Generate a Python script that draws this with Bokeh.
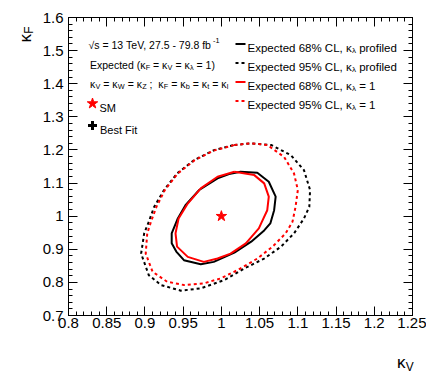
import math
import numpy as np
from bokeh.plotting import figure
from bokeh.models import Label, LinearAxis, FixedTicker, Range1d, CustomJSTickFormatter
from bokeh.embed import file_html
from bokeh.resources import INLINE

# ---------------- data ----------------
# Expected 68% CL, kappa_lambda profiled (black solid)
kv_68_prof = [1.010, 1.025, 1.047, 1.062, 1.071, 1.069, 1.064, 1.056, 1.039, 1.017, 0.990,
              0.973, 0.951, 0.941, 0.935, 0.935, 0.943, 0.953, 0.971, 0.995]
kf_68_prof = [1.127, 1.134, 1.131, 1.104, 1.059, 1.018, 0.978, 0.957, 0.923, 0.890, 0.862,
              0.855, 0.867, 0.893, 0.918, 0.948, 0.993, 1.033, 1.079, 1.114]
# Expected 95% CL, kappa_lambda profiled (black dashed)
kv_95_prof = [1.017, 1.039, 1.065, 1.091, 1.108, 1.116, 1.115, 1.108, 1.095, 1.078, 1.056,
              1.030, 1.004, 0.973, 0.947, 0.921, 0.905, 0.895, 0.899, 0.905, 0.912, 0.925,
              0.942, 0.964, 0.990]
kf_95_prof = [1.215, 1.220, 1.215, 1.184, 1.139, 1.079, 1.028, 0.993, 0.948, 0.908, 0.872,
              0.842, 0.807, 0.782, 0.775, 0.792, 0.822, 0.887, 0.948, 0.983, 1.028, 1.079,
              1.129, 1.169, 1.199]
# Expected 68% CL, kappa_lambda = 1 (red solid)
kv_68_kl1 = [1.017, 1.025, 1.043, 1.056, 1.062, 1.060, 1.052, 1.049, 1.032, 1.012, 0.995,
             0.977, 0.956, 0.942, 0.940, 0.944, 0.956, 0.973, 0.995]
kf_68_kl1 = [1.134, 1.131, 1.124, 1.099, 1.059, 1.018, 0.978, 0.963, 0.918, 0.887, 0.872,
             0.862, 0.877, 0.908, 0.948, 0.993, 1.038, 1.084, 1.119]
# Expected 95% CL, kappa_lambda = 1 (red dashed)
kv_95_kl1 = [1.017, 1.039, 1.060, 1.082, 1.095, 1.100, 1.097, 1.093, 1.084, 1.067, 1.047,
             1.021, 0.999, 0.977, 0.951, 0.929, 0.910, 0.901, 0.903, 0.908, 0.915, 0.926,
             0.943, 0.965, 0.990]
kf_95_kl1 = [1.215, 1.220, 1.215, 1.179, 1.129, 1.079, 1.028, 0.983, 0.948, 0.908, 0.872,
             0.837, 0.812, 0.797, 0.792, 0.802, 0.832, 0.887, 0.948, 0.984, 1.028, 1.079,
             1.129, 1.169, 1.198]
# Standard Model point
sm_kv = [1.0]
sm_kf = [1.0]

x_ticks = [0.8, 0.85, 0.9, 0.95, 1.0, 1.05, 1.1, 1.15, 1.2, 1.25]
x_tick_labels = ["0.8", "0.85", "0.9", "0.95", "1", "1.05", "1.1", "1.15", "1.2", "1.25"]
y_ticks = [0.7, 0.8, 0.9, 1.0, 1.1, 1.2, 1.3, 1.4, 1.5, 1.6]
y_tick_labels = ["0.7", "0.8", "0.9", "1", "1.1", "1.2", "1.3", "1.4", "1.5", "1.6"]

# ---------------- figure ----------------
X0, X1 = 0.8, 1.25
Y0, Y1 = 0.7, 1.6
BL, BR, BT, BB = 68, 14, 17, 60
FW, FH = 344, 298
W, H = BL + FW + BR, BT + FH + BB
FONT = "Liberation Sans"

p = figure(width=W, height=H,
           x_range=Range1d(X0, X1), y_range=Range1d(Y0, Y1),
           output_backend="svg", toolbar_location=None,
           min_border_left=BL, min_border_right=BR, min_border_top=BT, min_border_bottom=BB)
p.xgrid.visible = False
p.ygrid.visible = False
p.outline_line_color = "black"
p.outline_line_width = 1
p.outline_line_alpha = 1.0
p.background_fill_color = "white"
p.border_fill_color = "white"

x_minor = [round(v, 3) for v in np.arange(0.80, 1.2501, 0.01)]
y_minor = [round(v, 3) for v in np.arange(0.70, 1.6001, 0.02)]


def style_axis(ax, major_len, minor_len):
    ax.axis_line_color = "black"
    ax.major_tick_in = major_len
    ax.major_tick_out = 0
    ax.minor_tick_in = minor_len
    ax.minor_tick_out = 0
    ax.major_tick_line_color = "black"
    ax.minor_tick_line_color = "black"
    ax.major_label_text_font = FONT
    ax.major_label_text_font_size = "15px"
    ax.major_label_text_color = "black"


xb = p.xaxis[0]
xb.ticker = FixedTicker(ticks=x_ticks, minor_ticks=x_minor)
xb.major_label_overrides = {t: l for t, l in zip(x_ticks, x_tick_labels)}
style_axis(xb, 9, 4)
xb.major_label_standoff = 2

yl = p.yaxis[0]
yl.ticker = FixedTicker(ticks=y_ticks, minor_ticks=y_minor)
yl.major_label_overrides = {t: l for t, l in zip(y_ticks, y_tick_labels)}
style_axis(yl, 9, 4)
yl.major_label_standoff = 5

empty = CustomJSTickFormatter(code="return ''")
xt = LinearAxis(ticker=FixedTicker(ticks=x_ticks, minor_ticks=x_minor), formatter=empty)
style_axis(xt, 9, 4)
xt.major_label_standoff = 0
xt.major_label_text_font_size = "1px"
p.add_layout(xt, "above")
yr = LinearAxis(ticker=FixedTicker(ticks=y_ticks, minor_ticks=y_minor), formatter=empty)
style_axis(yr, 9, 4)
yr.major_label_standoff = 0
yr.major_label_text_font_size = "1px"
p.add_layout(yr, "right")

# ---------------- contours ----------------
def closed(a):
    return list(a) + [a[0]]

p.line(closed(kv_95_prof), closed(kf_95_prof), line_color="black", line_width=2, line_dash="3 3")
p.line(closed(kv_95_kl1), closed(kf_95_kl1), line_color="red", line_width=2, line_dash="3 3")
p.line(closed(kv_68_prof), closed(kf_68_prof), line_color="black", line_width=2)
p.line(closed(kv_68_kl1), closed(kf_68_kl1), line_color="red", line_width=2)
p.scatter(sm_kv, sm_kf, marker="star", size=11, fill_color="red", line_color="red")

# ---------------- layout helpers (reference-pixel positions) ----------------
REF_L, REF_T = 69.5, 19.0   # frame top-left corner in the reference picture


def px2x(xp):
    return X0 + (xp - REF_L) / FW * (X1 - X0)


def px2y(yp):
    return Y1 - (yp - REF_T) / FH * (Y1 - Y0)


WID = {' ': 278, '\u00a0': 278, '(': 333, ')': 333, ',': 278, '-': 333, '.': 278, ';': 278,
       '=': 584, '%': 889,
       '0': 556, '1': 556, '2': 556, '3': 556, '4': 556, '5': 556, '6': 556, '7': 556, '8': 556, '9': 556,
       'B': 667, 'C': 722, 'E': 667, 'F': 611, 'L': 556, 'M': 833, 'S': 667, 'T': 611, 'V': 667,
       'W': 944, 'Z': 611, 'a': 556, 'b': 556, 'c': 500, 'd': 556, 'e': 556, 'f': 278, 'i': 222,
       'l': 222, 'o': 556, 'p': 556, 'r': 333, 's': 500, 't': 278, 'x': 500,
       'κ': 520, 'λ': 500, '√': 549}


def twidth(s, size):
    return sum(WID.get(c, 556) for c in s) / 1000.0 * size


def rich(parts, xp, yp, size, color="black", angle=0.0, side=None):
    """parts: list of (text, kind) with kind in n/sub/sup; (xp, yp) baseline start in ref pixels."""
    d = 0.0
    for txt, kind in parts:
        if kind == "n":
            fs, s = size, 0.0
        elif kind == "sub":
            fs, s = size * 0.7, size * 0.25
        else:
            fs, s = size * 0.7, -size * 0.45
        if angle == 0.0:
            dx, dy = d, s
        else:
            dx, dy = s, -d
        shown = txt.replace(" ", "\u00a0")
        lab = Label(x=X0, y=Y1, x_offset=(xp - REF_L) + dx, y_offset=-((yp - REF_T) + dy),
                    text=shown, text_font=FONT, text_font_size=f"{fs:.1f}px",
                    text_color=color, text_align="left", text_baseline="alphabetic",
                    angle=angle)
        if side:
            p.add_layout(lab, side)
        else:
            p.add_layout(lab)
        d += twidth(txt, fs)


# header texts
rich([("√s = 13 TeV, 27.5 - 79.8 fb", "n"), ("-1", "sup")], 89.5, 46.5, 10.5)
rich([("Expected (κ", "n"), ("F", "sub"), (" = κ", "n"), ("V", "sub"), (" = κ", "n"),
      ("λ", "sub"), (" = 1)", "n")], 91, 66, 10.5)
rich([("κ", "n"), ("V", "sub"), (" = κ", "n"), ("W", "sub"), (" = κ", "n"), ("Z", "sub"),
      (" ;  κ", "n"), ("F", "sub"), (" = κ", "n"), ("b", "sub"), (" = κ", "n"), ("t", "sub"),
      (" = κ", "n"), ("l", "sub")], 91, 85.5, 10.5)

# SM / Best Fit keys
p.scatter([px2x(93.5)], [px2y(105)], marker="star", size=11, fill_color="red", line_color="red")
rich([("SM", "n")], 100.5, 109.5, 11)
p.scatter([px2x(93.5)], [px2y(127)], marker="cross", size=9, line_color="black", line_width=3)
rich([("Best Fit", "n")], 101, 131, 11)

# legend
leg = [("black", None, "profiled"), ("black", "3 3", "profiled"),
       ("red", None, "= 1"), ("red", "3 3", "= 1")]
cls = ["68%", "95%", "68%", "95%"]
for i, ((col, dash, tail), cl) in enumerate(zip(leg, cls)):
    yrow = 45.5 + 19 * i
    kw = dict(line_color=col, line_width=2)
    if dash:
        kw["line_dash"] = dash
    p.segment(x0=[px2x(236.5)], y0=[px2y(yrow)], x1=[px2x(246.5)], y1=[px2y(yrow)], **kw)
    rich([(f"Expected {cl} CL, κ", "n"), ("λ", "sub"), (" " + tail, "n")], 248.5, yrow + 4, 11.5)

# axis titles (outside the frame, in the side panels)
rich([("κ", "n"), ("V", "sub")], 398, 364, 17, side="below")
rich([("κ", "n"), ("F", "sub")], 26, 44, 17, angle=math.pi / 2, side="left")

open("out.html", "w").write(file_html(p, INLINE))
